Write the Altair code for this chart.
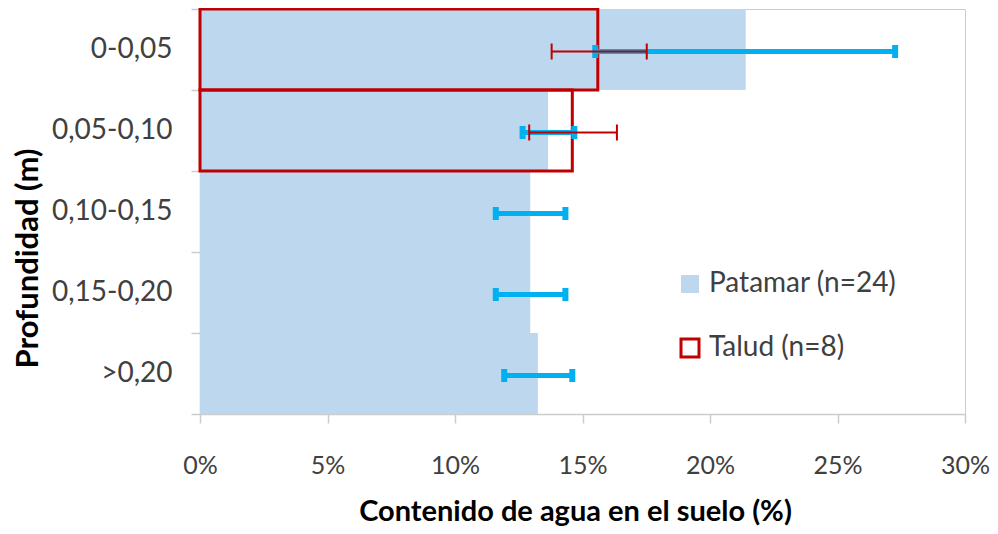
import altair as alt
import pandas as pd

categories = ["0-0,05", "0,05-0,10", "0,10-0,15", "0,15-0,20", ">0,20"]

patamar_mean = [21.4, 13.65, 12.95, 12.95, 13.25]
patamar_lo = [15.5, 12.65, 11.6, 11.6, 11.93]
patamar_hi = [27.26, 14.68, 14.33, 14.33, 14.6]

talud_cats = ["0-0,05", "0,05-0,10"]
talud_mean = [15.6, 14.6]
talud_lo = [13.79, 12.91]
talud_hi = [17.52, 16.35]

series = ["Patamar (n=24)", "Talud (n=8)"]

rows = []
for c, m, lo, hi in zip(categories, patamar_mean, patamar_lo, patamar_hi):
    rows.append({"prof": c, "serie": series[0], "mean": m, "lo": lo, "hi": hi})
for c, m, lo, hi in zip(talud_cats, talud_mean, talud_lo, talud_hi):
    rows.append({"prof": c, "serie": series[1], "mean": m, "lo": lo, "hi": hi})
df = pd.DataFrame(rows)

FONT = "Lato"
GREY = "#CCCCCC"

y_enc = alt.Y(
    "prof:N",
    sort=categories,
    scale=alt.Scale(paddingInner=0, paddingOuter=0),
    axis=alt.Axis(
        title="Profundidad (m)",
        tickBand="extent",
        tickSize=9,
        labelPadding=19,
        labelFontSize=28,
        titleFontSize=31,
        titleFontWeight="bold",
        titleAngle=-90,
        titleX=-172,
        titleY=249,
        titleAlign="center",
        titleBaseline="middle",
    ),
)

x_scale = alt.Scale(domain=[0, 30], nice=False, zero=True)
x_axis = alt.Axis(
    title="Contenido de agua en el suelo (%)",
    values=[0, 5, 10, 15, 20, 25, 30],
    labelExpr="datum.value + '%'",
    labelFlush=False,
    tickSize=9,
    labelPadding=30,
    labelFontSize=25,
    titleFontSize=29,
    titleFontWeight="bold",
    titleX=375,
    titleY=97,
    titleAlign="center",
    titleBaseline="middle",
    grid=False,
)

base = alt.Chart(df)

bars = base.mark_bar(strokeWidth=3).encode(
    y=y_enc,
    x=alt.X("mean:Q", scale=x_scale, axis=x_axis, stack=None),
    fill=alt.Fill(
        "serie:N",
        scale=alt.Scale(domain=series, range=["#BDD7EE", "transparent"]),
        legend=alt.Legend(title=None),
    ),
    stroke=alt.Stroke(
        "serie:N",
        scale=alt.Scale(domain=series, range=["transparent", "#C00000"]),
        legend=alt.Legend(title=None),
    ),
)

blue_rule = base.transform_filter(alt.datum.serie == series[0]).mark_rule(
    color="#00B0F0", strokeWidth=5, yOffset=2
).encode(y=alt.Y("prof:N", sort=categories), x="lo:Q", x2="hi:Q")

blue_caps = base.transform_filter(alt.datum.serie == series[0]).transform_fold(
    ["lo", "hi"], as_=["k", "v"]
).mark_tick(color="#00B0F0", thickness=6, size=13, yOffset=2, opacity=1).encode(
    y=alt.Y("prof:N", sort=categories), x="v:Q"
)

red_rule = base.transform_filter(alt.datum.serie == series[1]).mark_rule(
    color="#C00000", strokeWidth=2, yOffset=2
).encode(y=alt.Y("prof:N", sort=categories), x="lo:Q", x2="hi:Q")

red_caps = base.transform_filter(alt.datum.serie == series[1]).transform_fold(
    ["lo", "hi"], as_=["k", "v"]
).mark_tick(color="#C00000", thickness=2, size=16, yOffset=2, opacity=1).encode(
    y=alt.Y("prof:N", sort=categories), x="v:Q"
)

chart = (
    alt.layer(bars, blue_rule, blue_caps, red_rule, red_caps)
    .properties(
        width=765,
        height=405,
        autosize=alt.AutoSizeParams(type="none"),
        padding={"left": 192, "top": 1, "right": 25, "bottom": 112},
    )
    .configure_view(stroke=GREY, strokeWidth=1)
    .configure_axis(
        domainColor=GREY,
        tickColor=GREY,
        labelFont=FONT,
        titleFont=FONT,
        labelColor="#404040",
        titleColor="#000000",
        domainWidth=1.5,
        tickWidth=1.5,
    )
    .configure_legend(
        orient="none",
        legendX=476,
        legendY=261,
        padding=0,
        symbolType="square",
        symbolSize=324,
        symbolStrokeWidth=3,
        labelFont=FONT,
        labelFontSize=28,
        labelColor="#404040",
        labelOffset=5,
        labelLimit=400,
        rowPadding=34,
    )
)

chart.save("out.html", embed_options={"renderer": "svg", "actions": False})
